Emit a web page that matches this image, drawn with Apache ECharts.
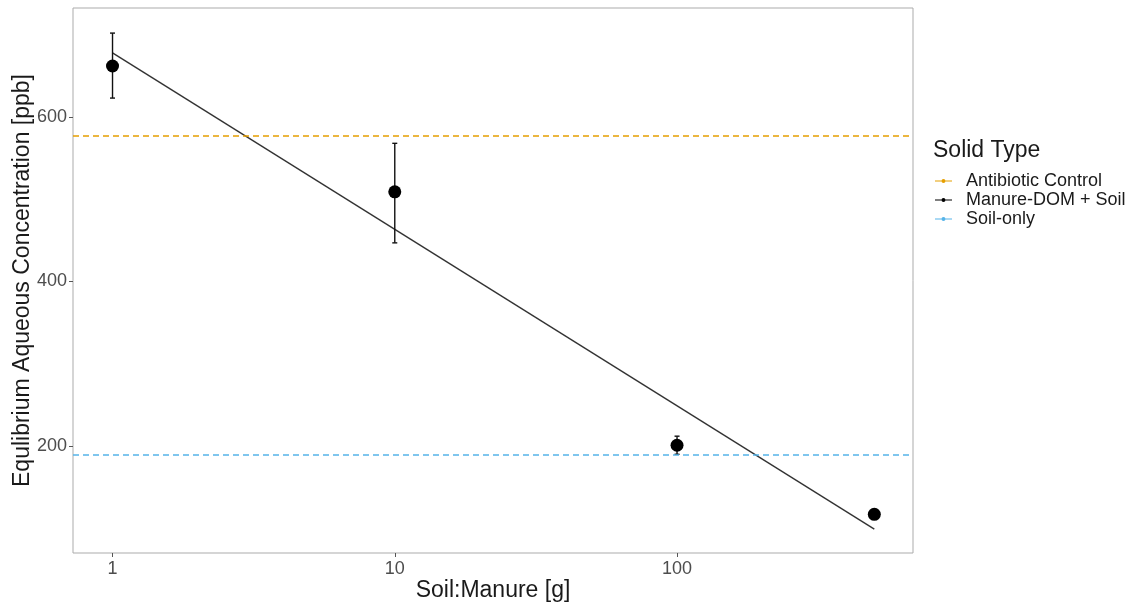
<!DOCTYPE html>
<html>
<head>
<meta charset="utf-8">
<script src="https://cdn.jsdelivr.net/npm/echarts@6/dist/echarts.min.js"></script>
<style>
  html, body { margin: 0; padding: 0; background: #fff; }
  #chart { width: 1130px; height: 604px; }
</style>
</head>
<body>
<div id="chart"></div>
<script>
// soil:manure ratio and measured concentration (ppb)
const ratios = [1, 10, 100, 500];
const meanConc = [662, 509, 201, 117];
const errLow = [623, 447, 190, 117];
const errHigh = [702, 568, 212, 117];

// fitted line end points
const fitRatios = [1, 500];
const fitConc = [678, 99];

// reference levels
const antibioticControl = 577;
const soilOnly = 189;

const xTickLabels = [1, 10, 100];
const yTicks = [200, 400, 600];

const orange = "#E69F00";
const blue = "#56B4E9";
const font = "Liberation Sans, Arial, sans-serif";

const lg = (v) => Math.log10(v);

const chart = echarts.init(document.getElementById("chart"));

const legendIcon = "path://M0,1.9H17V3.1H0Z M8.5,0.5A2,2,0,1,1,8.49,0.5Z";

chart.setOption({
  animation: false,
  textStyle: { fontFamily: font },
  title: {
    text: "Solid Type",
    left: 928,
    top: 134,
    textStyle: { fontSize: 23, fontWeight: "normal", color: "#1a1a1a", fontFamily: font },
  },
  legend: {
    orient: "vertical",
    left: 935,
    top: 172,
    padding: 0,
    itemWidth: 17,
    itemHeight: 4,
    itemGap: 1,
    selectedMode: false,
    textStyle: { fontSize: 18, color: "#1a1a1a", lineHeight: 17, padding: [0, 0, 0, 9] },
    data: [
      { name: "Antibiotic Control", icon: legendIcon },
      { name: "Manure-DOM + Soil", icon: legendIcon },
      { name: "Soil-only", icon: legendIcon },
    ],
  },
  grid: {
    left: 73,
    top: 8,
    right: 217,
    bottom: 51,
    outerBoundsMode: "none",
    show: true,
    borderColor: "#ababab",
    borderWidth: 1,
    backgroundColor: "#fff",
  },
  xAxis: {
    type: "value",
    min: -0.14,
    max: 2.836,
    name: "Soil:Manure [g]",
    nameLocation: "middle",
    nameGap: 26,
    nameMoveOverlap: false,
    nameTextStyle: { fontSize: 23, color: "#1a1a1a", verticalAlign: "top" },
    axisLine: { show: false, onZero: false },
    splitLine: { show: false },
    axisTick: {
      show: true,
      length: 4,
      lineStyle: { color: "#555" },
      customValues: xTickLabels.map(lg),
    },
    axisLabel: {
      fontSize: 18,
      color: "#4d4d4d",
      margin: 7,
      customValues: xTickLabels.map(lg),
      formatter: (v) => String(Math.round(Math.pow(10, v))),
    },
  },
  yAxis: {
    type: "value",
    min: 70,
    max: 732.5,
    name: "Equlibrium Aqueous Concentration [ppb]",
    nameLocation: "middle",
    nameGap: 39,
    nameMoveOverlap: false,
    nameTextStyle: { fontSize: 23, color: "#1a1a1a" },
    axisLine: { show: false, onZero: false },
    splitLine: { show: false },
    axisTick: {
      show: true,
      length: 4,
      lineStyle: { color: "#555" },
      customValues: yTicks,
    },
    axisLabel: {
      fontSize: 18,
      color: "#4d4d4d",
      margin: 6,
      customValues: yTicks,
    },
  },
  series: [
    {
      name: "Antibiotic Control",
      type: "line",
      data: [],
      itemStyle: { color: orange },
      markLine: {
        silent: true,
        symbol: "none",
        label: { show: false },
        lineStyle: { color: orange, type: [6, 4], width: 1.5 },
        data: [{ yAxis: antibioticControl }],
      },
    },
    {
      name: "Manure-DOM + Soil",
      type: "line",
      data: fitRatios.map((r, i) => [lg(r), fitConc[i]]),
      showSymbol: false,
      symbol: "none",
      itemStyle: { color: "#000" },
      lineStyle: { color: "#333", width: 1.4 },
      z: 3,
    },
    {
      name: "Soil-only",
      type: "line",
      data: [],
      itemStyle: { color: blue },
      markLine: {
        silent: true,
        symbol: "none",
        label: { show: false },
        lineStyle: { color: blue, type: [6, 4], width: 1.5 },
        data: [{ yAxis: soilOnly }],
      },
    },
    {
      name: "Manure-DOM + Soil",
      type: "custom",
      data: ratios.map((r, i) => [lg(r), errLow[i], errHigh[i]]),
      renderItem: (params, api) => {
        const x = api.value(0);
        if (api.value(1) === api.value(2)) return null;
        const lo = api.coord([x, api.value(1)]);
        const hi = api.coord([x, api.value(2)]);
        const cap = 2.5;
        const style = { stroke: "#111", lineWidth: 1.4 };
        return {
          type: "group",
          children: [
            { type: "line", shape: { x1: lo[0], y1: lo[1], x2: hi[0], y2: hi[1] }, style },
            { type: "line", shape: { x1: lo[0] - cap, y1: lo[1], x2: lo[0] + cap, y2: lo[1] }, style },
            { type: "line", shape: { x1: hi[0] - cap, y1: hi[1], x2: hi[0] + cap, y2: hi[1] }, style },
          ],
        };
      },
      z: 4,
    },
    {
      name: "Manure-DOM + Soil",
      type: "scatter",
      data: ratios.map((r, i) => [lg(r), meanConc[i]]),
      symbolSize: 13,
      itemStyle: { color: "#000", opacity: 1 },
      z: 5,
    },
  ],
});
</script>
</body>
</html>
